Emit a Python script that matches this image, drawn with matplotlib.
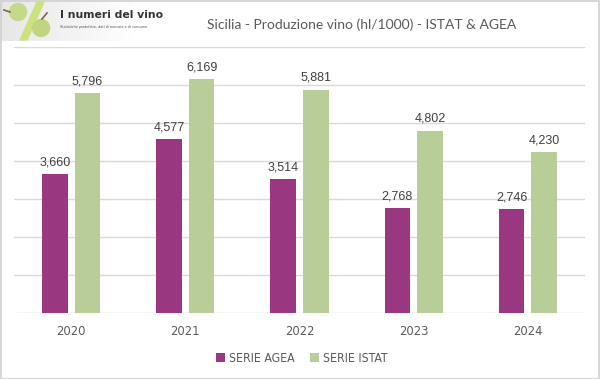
import matplotlib
matplotlib.use("Agg")
import matplotlib.pyplot as plt
import numpy as np
from matplotlib.patches import Rectangle, Circle, Polygon
from matplotlib import font_manager as fm

years = ["2020", "2021", "2022", "2023", "2024"]
agea = [3660, 4577, 3514, 2768, 2746]
istat = [5796, 6169, 5881, 4802, 4230]
series_names = ["SERIE AGEA", "SERIE ISTAT"]
title = "Sicilia - Produzione vino (hl/1000) - ISTAT & AGEA"

PURPLE = "#993881"
GREEN = "#B8CD97"
TXT = "#595959"
GRID = "#D9D9D9"

fig = plt.figure(figsize=(6.0, 3.79), dpi=100)
W, H = 600, 379

fig.patches.append(Rectangle((0.5 / W, 0.5 / H), 1 - 1.5 / W, 1 - 1.5 / H, transform=fig.transFigure,
                             fill=False, edgecolor="#D0D0D0", lw=1.2))

ax = fig.add_axes([14 / W, (H - 313) / H, (585 - 14) / W, (313 - 47) / H])
x = np.arange(len(years))
bw = 0.223
off = 0.143
b1 = ax.bar(x - off, agea, bw, color=PURPLE, label=series_names[0], zorder=3)
b2 = ax.bar(x + off, istat, bw, color=GREEN, label=series_names[1], zorder=3)
ax.set_xlim(-0.5, len(years) - 0.5)
ax.set_ylim(0, 7000)
ax.set_yticks(range(0, 7001, 1000))
ax.yaxis.grid(True, color=GRID, lw=1.0, zorder=0)
ax.tick_params(axis="y", left=False, labelleft=False)
ax.tick_params(axis="x", bottom=False, pad=5)
for s in ax.spines.values():
    s.set_visible(False)
ax.set_xticks(x)
ax.set_xticklabels(years, color=TXT,
                   fontproperties=fm.FontProperties(family="DejaVu Sans", stretch="condensed", size=9.3))

for bars, vals in ((b1, agea), (b2, istat)):
    for r, v in zip(bars, vals):
        ax.annotate(f"{v:,}", (r.get_x() + r.get_width() / 2, v), xytext=(0, 4),
                    textcoords="offset points", ha="center", va="bottom",
                    fontsize=9, color="#404040", family=["Liberation Sans", "DejaVu Sans"])

leg = fig.legend(handles=[b1, b2], labels=series_names, loc="center", bbox_to_anchor=(302 / W, 1 - 358 / H),
                 ncol=2, frameon=False, handlelength=0.7, handleheight=0.7,
                 handletextpad=0.35, columnspacing=1.3,
                 prop=fm.FontProperties(family="DejaVu Sans", stretch="condensed", size=8.8))
for t in leg.get_texts():
    t.set_color(TXT)

fig.text(362 / W, 1 - 25 / H, title, ha="center", va="center", fontsize=10, color=TXT,
         family=["Lato", "DejaVu Sans"])

# logo
lax = fig.add_axes([0, 1 - 41 / H, 140 / W, 41 / H])
lax.set_xlim(0, 140)
lax.set_ylim(41, 0)
lax.axis("off")
grad = np.linspace(0.90, 1.0, 140)[None, :].repeat(41, axis=0)
lax.imshow(grad, cmap="gray", vmin=0, vmax=1, extent=(0, 140, 41, 0), aspect="auto")
lax.add_patch(Polygon([[20, 40], [27, 40], [44, 2], [37, 2]], closed=True, color="#CDE27E", zorder=3))
lax.add_patch(Circle((18, 12), 8.5, color="#C5D98A", zorder=4))
lax.add_patch(Circle((41, 28), 8.5, color="#BFD67E", zorder=4))
lax.plot([4, 10], [10, 12], color="#7A6A40", lw=1.2, zorder=5)
lax.plot([42, 47], [19, 13], color="#7A6A40", lw=1.2, zorder=5)
lax.text(60, 15, "I numeri del vino", fontsize=7.8, fontweight="bold", color="#333333",
         va="center", ha="left", family="DejaVu Sans")
lax.text(60, 27, "Statistiche produttive, dati di mercato e di consumo", fontsize=2.4, color="#555555",
         va="center", ha="left")

fig.savefig("out.png", dpi=100)
